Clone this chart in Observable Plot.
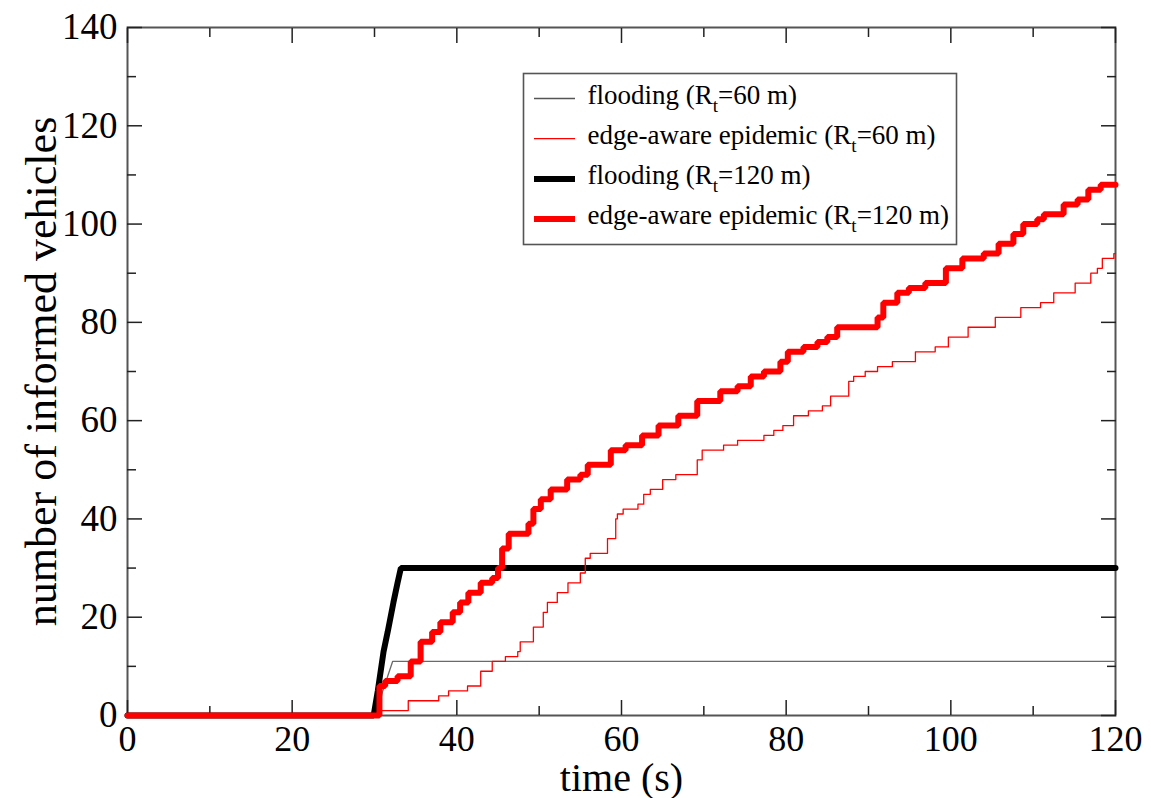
<!DOCTYPE html>
<html>
<head>
<meta charset="utf-8">
<script src="https://cdn.jsdelivr.net/npm/d3@7"></script>
<script src="https://cdn.jsdelivr.net/npm/@observablehq/plot@0.6"></script>
<style>
  body { margin: 0; background: #fff; }
  #wrap { position: relative; width: 1151px; height: 798px; font-family: "Liberation Serif", "DejaVu Serif", serif; }
  #legend { position: absolute; left: 522px; top: 72px; }
</style>
</head>
<body>
<div id="wrap"><div id="legend"></div></div>
<script>
// ---- tick values ----
const xMajorTicks = [0, 20, 40, 60, 80, 100, 120];
const xMinorTicks = [10, 30, 50, 70, 90, 110];
const yMajorTicks = [0, 20, 40, 60, 80, 100, 120, 140];
const yMinorTicks = [10, 30, 50, 70, 90, 110, 130];

// ---- labels ----
const xLabel = "time (s)";
const yLabel = "number of informed vehicles";
const seriesNames = ["flooding", "edge-aware epidemic", "flooding", "edge-aware epidemic"];
const seriesRanges = ["60", "60", "120", "120"];

// ---- series: flooding (Rt=60 m) ----
const flood60Time  = [0, 30.3, 31.0, 31.6, 32.2, 120];
const flood60Value = [0, 0, 5, 8, 11, 11];

// ---- series: edge-aware epidemic (Rt=60 m) ----
const epi60Time  = [0, 30.8, 34.1, 37.8, 39, 41.3, 42.9, 44.3, 45.9, 47.4, 47.7, 49.3, 50.5, 51, 52.2, 53.5, 55, 55.6, 56.2, 58.3,
                    59.3, 59.5, 60.2, 62, 62.7, 63.5, 65, 66.6, 69.2, 69.8, 72.4, 74.1, 77.3, 78.5, 79.6, 80.9, 82.7, 84.4, 85.4, 87.6,
                    88.2, 89.6, 91.1, 92.9, 95.7, 98.1, 99.7, 102.1, 105.4, 108.5, 110.9, 112.5, 115.1, 117, 117.8, 118.4, 119.8, 120];
const epi60Value = [0, 1, 3, 4, 5, 6, 9, 11, 12, 13, 15, 18, 21, 23, 25, 27, 29, 32, 33, 36,
                    40, 41, 42, 43, 45, 46, 48, 49, 52, 54, 55, 56, 57, 58, 59, 61, 62, 63, 65, 68,
                    69, 70, 71, 72, 74, 75, 77, 79, 81, 83, 84, 86, 88, 90, 91, 93, 94, 94];

// ---- series: flooding (Rt=120 m) ----
const flood120Time  = [0, 29.9, 30.4, 31.1, 31.6, 32.3, 32.8, 33.2, 120];
const flood120Value = [0, 0, 5, 13, 17, 23, 27, 30, 30];

// ---- series: edge-aware epidemic (Rt=120 m) ----
const epi120Time  = [0, 30.6, 31.3, 32.8, 34.4, 35.6, 37, 38, 39.5, 40.4, 41.4, 42.9, 44.3, 45, 45.5, 46.3, 48.7, 49.3, 50.2, 51.4,
                     53.4, 55, 55.9, 58.7, 60.5, 62.5, 64.5, 66.9, 69.2, 72, 74.1, 75.7, 77.3, 79.3, 80.2, 82.1, 83.8, 85, 86.2, 91.1,
                     91.8, 93.5, 94.9, 96.9, 99.4, 101.4, 104, 105.8, 107.6, 108.8, 110.5, 111.3, 113.7, 115.4, 116.7, 118.2, 120];
const epi120Value = [0, 6, 7, 8, 11, 15, 17, 19, 21, 23, 25, 27, 28, 30, 34, 37, 39, 42, 44, 46,
                     48, 49, 51, 54, 55, 57, 59, 61, 64, 66, 67, 69, 70, 72, 74, 75, 76, 77, 79, 81,
                     84, 86, 87, 88, 91, 93, 94, 96, 98, 100, 101, 102, 104, 105, 107, 108, 108];

const toRows = (ts, vs) => ts.map((t, i) => ({t, v: vs[i]}));
const flood60 = toRows(flood60Time, flood60Value);
const epi60 = toRows(epi60Time, epi60Value);
const flood120 = toRows(flood120Time, flood120Value);
const epi120 = toRows(epi120Time, epi120Value);

const tickStroke = "#222";
const tickAxis = (axis, ticks, anchor, size) =>
  axis(ticks, {anchor, tickSize: -size, fill: "none", label: null, stroke: tickStroke, strokeWidth: 1.5});

const serif = "'Liberation Serif', 'DejaVu Serif', serif";

const chart = Plot.plot({
  width: 1151,
  height: 798,
  marginLeft: 127,
  marginRight: 36,
  marginTop: 27,
  marginBottom: 83,
  style: {fontFamily: serif, background: "#fff", color: "#000", overflow: "visible"},
  x: {domain: [0, 120]},
  y: {domain: [0, 140]},
  marks: [
    Plot.frame({stroke: "#555", strokeWidth: 2}),
    // tick labels
    Plot.axisX(xMajorTicks, {anchor: "bottom", tickSize: 0, tickPadding: 10, fontSize: 36, label: null}),
    Plot.axisY(yMajorTicks, {anchor: "left", tickSize: 0, tickPadding: 10, fontSize: 37, label: null}),
    // inward ticks on all four sides
    tickAxis(Plot.axisX, xMajorTicks, "bottom", 15),
    tickAxis(Plot.axisX, xMinorTicks, "bottom", 9),
    tickAxis(Plot.axisX, xMajorTicks, "top", 15),
    tickAxis(Plot.axisX, xMinorTicks, "top", 9),
    tickAxis(Plot.axisY, yMajorTicks, "left", 15),
    tickAxis(Plot.axisY, yMinorTicks, "left", 9),
    tickAxis(Plot.axisY, yMajorTicks, "right", 15),
    tickAxis(Plot.axisY, yMinorTicks, "right", 9),
    // axis titles
    Plot.text([xLabel], {text: d => d, frameAnchor: "bottom", dy: 63, fontSize: 40, textAnchor: "middle", lineAnchor: "middle"}),
    Plot.text([yLabel], {text: d => d, frameAnchor: "left", dx: -86, rotate: -90, fontSize: 44, textAnchor: "middle", lineAnchor: "middle"}),
    // data
    Plot.line(flood60, {x: "t", y: "v", stroke: "#6a6a6a", strokeWidth: 1.3}),
    Plot.line(flood120, {x: "t", y: "v", stroke: "#000", strokeWidth: 6, strokeLinejoin: "miter"}),
    Plot.line(epi60, {x: "t", y: "v", curve: "step-after", stroke: "#ff0000", strokeWidth: 1.3}),
    Plot.line(epi120, {x: "t", y: "v", curve: "step-after", stroke: "#ff0000", strokeWidth: 6, strokeLinejoin: "miter"})
  ]
});
document.getElementById("wrap").insertBefore(chart, document.getElementById("legend"));

// ---- legend (a small Plot with pixel identity scales) ----
const legendColors = ["#555", "#ff0000", "#000", "#ff0000"];
const legendWidths = [1.3, 1.3, 6, 6];
const mainSize = 27, subSize = 19;
const ctx = document.createElement("canvas").getContext("2d");
const measure = (s, size) => { ctx.font = `${size}px 'Liberation Serif', 'DejaVu Serif', serif`; return ctx.measureText(s).width; };
const legendRows = seriesNames.map((name, i) => {
  const head = name + " (R";
  const w1 = measure(head, mainSize);
  const w2 = measure("t", subSize);
  return {head, sub: "t", tail: "=" + seriesRanges[i] + " m)", color: legendColors[i], width: legendWidths[i],
          cy: 26 + i * 40.2, x1: 65, x2: 65 + w1, x3: 65 + w1 + w2};
});
const legend = Plot.plot({
  width: 435, height: 173,
  margin: 0,
  axis: null,
  x: {type: "identity"},
  y: {type: "identity"},
  style: {fontFamily: serif, background: "#fff", color: "#000", overflow: "visible"},
  marks: [
    Plot.frame({stroke: "#555", strokeWidth: 1.6, fill: "#fff", inset: 1}),
    Plot.ruleY(legendRows, {y: "cy", x1: 12, x2: 53, stroke: "color", strokeWidth: "width"}),
    Plot.text(legendRows, {x: "x1", y: d => d.cy + 5, text: "head", fontSize: mainSize, textAnchor: "start", lineAnchor: "bottom"}),
    Plot.text(legendRows, {x: "x2", y: d => d.cy + 13, text: "sub", fontSize: subSize, textAnchor: "start", lineAnchor: "bottom"}),
    Plot.text(legendRows, {x: "x3", y: d => d.cy + 5, text: "tail", fontSize: mainSize, textAnchor: "start", lineAnchor: "bottom"})
  ]
});
document.getElementById("legend").appendChild(legend);
</script>
</body>
</html>
